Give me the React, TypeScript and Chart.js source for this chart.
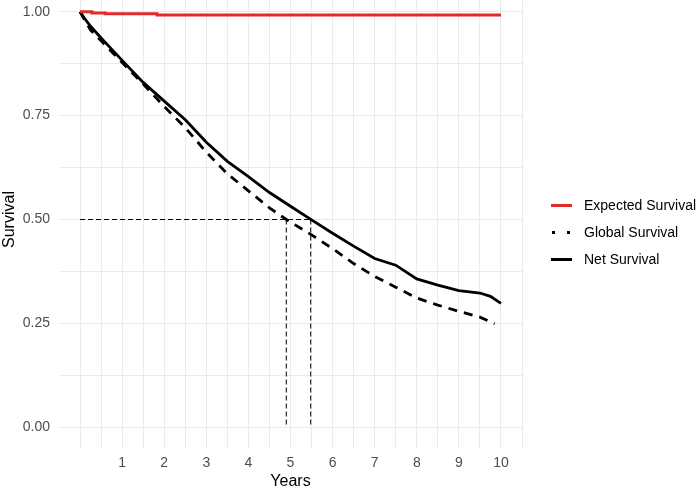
import React, { useEffect, useRef } from "react";
import { Chart, registerables } from "chart.js";

Chart.register(...registerables);

// ---- data ----
const expectedYears = [0, 0.28, 0.6, 1.83, 10];
const expectedSurvival = [1.0, 0.997, 0.995, 0.992, 0.992];

const globalYears = [0, 0.1, 0.25, 0.5, 0.75, 1, 1.5, 2, 2.5, 3, 3.5, 4, 4.5, 4.9, 5.5, 6, 6.5, 7, 7.5, 8, 8.5, 9, 9.5, 9.85];
const globalSurvival = [1, 0.982, 0.956, 0.93, 0.904, 0.878, 0.826, 0.772, 0.721, 0.662, 0.61, 0.569, 0.528, 0.5, 0.463, 0.43, 0.394, 0.363, 0.337, 0.311, 0.294, 0.279, 0.265, 0.249];

const netYears = [0, 0.1, 0.25, 0.5, 0.75, 1, 1.5, 2, 2.5, 3, 3.5, 4, 4.5, 5, 5.5, 6, 6.5, 7, 7.5, 8, 8.5, 9, 9.5, 9.75, 10];
const netSurvival = [1, 0.985, 0.965, 0.937, 0.91, 0.883, 0.83, 0.785, 0.74, 0.686, 0.64, 0.603, 0.565, 0.532, 0.499, 0.467, 0.436, 0.406, 0.39, 0.357, 0.342, 0.329, 0.323, 0.315, 0.298];

const medianSurvival = 0.5;
const medianGlobal = 4.9;
const medianNet = 5.48;

const xTickLabels = ["1", "2", "3", "4", "5", "6", "7", "8", "9", "10"];
const yTickLabels = ["0.00", "0.25", "0.50", "0.75", "1.00"];
const legendLabels = ["Expected Survival", "Global Survival", "Net Survival"];
const xTitle = "Years";
const yTitle = "Survival";

const FONT = "'Liberation Sans', Arial, Helvetica, sans-serif";
const RED = "#e32a2a";
const GRID = "#ebebeb";

const pts = (xs: number[], ys: number[]) => xs.map((x, i) => ({ x, y: ys[i] }));

export default function App() {
  const ref = useRef<HTMLCanvasElement | null>(null);

  useEffect(() => {
    document.body.style.margin = "0";
    const canvas = ref.current;
    if (!canvas) return;
    Chart.defaults.font.family = FONT;

    const refLine = {
      borderColor: "#000",
      borderWidth: 1,
      borderDash: [5, 3],
      pointRadius: 0,
      fill: false,
    };

    const chart = new Chart(canvas, {
      type: "line",
      data: {
        datasets: [
          {
            label: legendLabels[0],
            data: pts(expectedYears, expectedSurvival),
            borderColor: RED,
            borderWidth: 3,
            stepped: true,
            pointRadius: 0,
            fill: false,
          },
          {
            label: legendLabels[2],
            data: pts(netYears, netSurvival),
            borderColor: "#000",
            borderWidth: 2.8,
            pointRadius: 0,
            tension: 0,
            fill: false,
          },
          {
            label: legendLabels[1],
            data: pts(globalYears, globalSurvival),
            borderColor: "#000",
            borderWidth: 2.8,
            borderDash: [9, 7],
            pointRadius: 0,
            tension: 0,
            fill: false,
          },
          {
            label: "median",
            data: [
              { x: 0, y: medianSurvival },
              { x: medianNet, y: medianSurvival },
            ],
            ...refLine,
          },
          {
            label: "medianGlobal",
            data: [
              { x: medianGlobal, y: medianSurvival },
              { x: medianGlobal, y: 0 },
            ],
            ...refLine,
          },
          {
            label: "medianNet",
            data: [
              { x: medianNet, y: medianSurvival },
              { x: medianNet, y: 0 },
            ],
            ...refLine,
          },
        ],
      },
      options: {
        animation: false,
        responsive: false,
        maintainAspectRatio: false,
        events: [],
        layout: { padding: { left: 0, right: 176, top: 0, bottom: 0 } },
        plugins: { legend: { display: false }, tooltip: { enabled: false } },
        scales: {
          x: {
            type: "linear",
            min: -0.5,
            max: 10.5,
            afterBuildTicks: (scale: any) => {
              const t = [];
              for (let v = 0; v <= 10.5 + 1e-9; v += 0.5) t.push({ value: v });
              scale.ticks = t;
            },
            afterFit: (scale: any) => {
              scale.height = 43;
              scale.paddingLeft = 0;
              scale.paddingRight = 0;
            },
            grid: { color: GRID, lineWidth: 1, drawTicks: false },
            border: { display: false },
            ticks: {
              autoSkip: false,
              maxRotation: 0,
              padding: 7,
              color: "#4d4d4d",
              font: { size: 14 },
              callback: (v: any) => {
                const n = Number(v);
                if (Math.abs(n - Math.round(n)) < 1e-6 && n >= 1 && n <= 10) return xTickLabels[Math.round(n) - 1];
                return "";
              },
            },
            title: {
              display: true,
              text: xTitle,
              color: "#000",
              font: { size: 16 },
              padding: { top: 0, bottom: 0 },
            },
          },
          y: {
            type: "linear",
            min: -0.05,
            max: 1.05,
            afterBuildTicks: (scale: any) => {
              const t = [];
              for (let v = 0; v <= 1 + 1e-9; v += 0.125) t.push({ value: v });
              scale.ticks = t;
            },
            afterFit: (scale: any) => {
              scale.width = 59;
              scale.paddingTop = 0;
              scale.paddingBottom = 0;
            },
            grid: { color: GRID, lineWidth: 1, drawTicks: false },
            border: { display: false },
            ticks: {
              autoSkip: false,
              padding: 9,
              color: "#4d4d4d",
              font: { size: 14 },
              callback: (v: any) => {
                const n = Number(v) * 4;
                if (Math.abs(n - Math.round(n)) < 1e-6) return yTickLabels[Math.round(n)];
                return "";
              },
            },
            title: {
              display: true,
              text: yTitle,
              color: "#000",
              font: { size: 16 },
              padding: { top: 0, bottom: 0 },
            },
          },
        },
      },
    } as any);

    return () => chart.destroy();
  }, []);

  const itemStyle = (top: number): React.CSSProperties => ({
    position: "absolute",
    left: 551,
    top: top - 10,
    height: 20,
    display: "flex",
    alignItems: "center",
    fontFamily: FONT,
    fontSize: 14,
    color: "#000",
    whiteSpace: "nowrap",
  });

  const keyBox: React.CSSProperties = { width: 21, height: 20, position: "relative", marginRight: 12 };

  return (
    <div style={{ position: "fixed", left: 0, top: 0, width: 698, height: 491, overflow: "hidden", background: "#fff" }}>
      <canvas ref={ref} width={698} height={500} style={{ position: "absolute", left: 0, top: -9, width: 698, height: 500 }} />
      <div style={itemStyle(205)}>
        <div style={keyBox}>
          <div style={{ position: "absolute", left: 0, top: 8.5, width: 21, height: 3, background: RED }} />
        </div>
        <span>{legendLabels[0]}</span>
      </div>
      <div style={itemStyle(232)}>
        <div style={keyBox}>
          <div style={{ position: "absolute", left: 1, top: 8.5, width: 3, height: 3, background: "#000" }} />
          <div style={{ position: "absolute", left: 16, top: 8.5, width: 3, height: 3, background: "#000" }} />
        </div>
        <span>{legendLabels[1]}</span>
      </div>
      <div style={itemStyle(259)}>
        <div style={keyBox}>
          <div style={{ position: "absolute", left: 0, top: 8.5, width: 21, height: 3, background: "#000" }} />
        </div>
        <span>{legendLabels[2]}</span>
      </div>
    </div>
  );
}
